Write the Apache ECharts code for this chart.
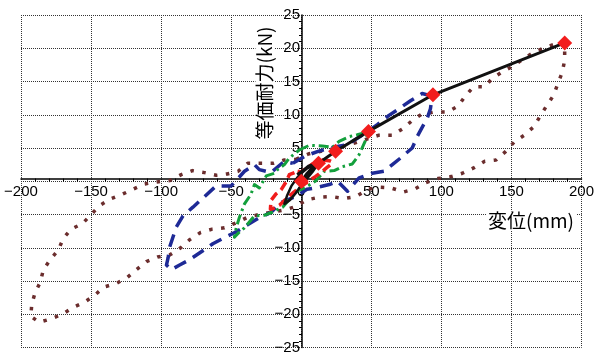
<!DOCTYPE html>
<html><head><meta charset="utf-8">
<script src="https://cdn.jsdelivr.net/npm/echarts@6/dist/echarts.min.js"></script>
<style>html,body{margin:0;padding:0;background:#fff}#c{width:597px;height:355px}</style>
</head><body><div id="c"></div>
<script>
// ---- data ----
var xTicks = [-200, -150, -100, -50, 0, 50, 100, 150, 200];
var yTicks = [-25, -20, -15, -10, -5, 0, 5, 10, 15, 20, 25];
var xName = '変位(mm)';
var yName = '等価耐力(kN)';

// skeleton (envelope) curve with diamond markers
var skeletonX = [0, 12.3, 24.5, 48, 94, 188];
var skeletonY = [0, 2.7, 4.5, 7.5, 13, 20.8];

// small black loops near origin
var blackLoop = [[0,0],[4,1.2],[8,2.1],[12.3,2.7],[8,1.4],[4,0.4],[0,-0.6],[-4,-1.8],[-8,-2.8],[-12,-3.4],[-10,-2.1],[-7,-0.7],[-3,0.5],[0,1.2],[4,1.9],[8,2.4],[12.3,2.7],[9,2.6],[5,2.3],[1,1.6],[-3,1.0]];

// red loop (~±20 mm)
var redLoop = [[-2.6,1.5],[0,1.4],[4,2],[8,2.6],[12,3.0],[15,3.2],[20,3.1],[22,2.9],[21,2.5],[18,2.0],[15.2,1.5],[10,0.7],[5,0],[0,-0.8],[-5,-1.6],[-10,-2.5],[-15.6,-3.6],[-20,-4.1],[-22,-4.2],[-21.6,-2.9],[-18,-1.9],[-14.4,-1.3],[-10.5,0],[-8.5,1],[-2.6,1.5]];

// green loop (~±50 mm)
var greenLoop = [[-1.4,4.7],[5.7,5.4],[15,5.3],[22.3,5.1],[27,6],[34,6.7],[40,7],[47.2,7.4],[46,6.2],[43,4.8],[41.3,4.0],[36.5,2.6],[29.4,2.2],[23.5,1.6],[16.4,1.5],[10,0],[4,-0.8],[-3,-1.5],[-8,-2.6],[-13.3,-3.9],[-20,-4.6],[-26,-5.1],[-33.4,-5.2],[-40.5,-7.0],[-44,-7.6],[-47.7,-8.4],[-46.4,-7],[-44.1,-5.4],[-40.5,-3.4],[-36,-2],[-33.4,-0.5],[-29.9,-1],[-25,0.8],[-19,1.2],[-16.9,1.75],[-12,2.5],[-8.5,3.5],[-1.4,4.7]];

// blue loop (~±100 mm)
var blueLoop = [[-6,2.7],[3,3.8],[12,4.5],[24.7,5.2],[33,5.5],[44,7],[54.3,8.5],[62.6,9.9],[69.7,10.9],[78,12.1],[86.3,13.2],[93.4,12.8],[92.2,10.9],[89.8,9.4],[86,8],[82.7,6.7],[79.2,5.0],[70.9,3.5],[65,2.5],[59,1.5],[50.7,1.2],[41.3,0.5],[33,-1.5],[26,0],[20,-0.5],[10,-1],[4,-1.2],[-3,-2.2],[-14.4,-3.2],[-21.6,-4.7],[-30,-5.5],[-38,-6.5],[-46.4,-7.6],[-55,-8.5],[-63.1,-9.4],[-71.3,-10.6],[-79.7,-11.8],[-86.8,-12.6],[-92.7,-13.3],[-96.2,-12.6],[-95,-11.5],[-93.9,-9.9],[-89.2,-6.9],[-84.4,-5.2],[-77.3,-3.9],[-69,-2.3],[-60.7,-0.7],[-50,-0.7],[-40.5,1.5],[-33.4,2.5],[-29.9,1.75],[-21.6,1.3],[-12.1,3.0],[-6,2.7]];

// brown loop (~±190 mm)
var brownLoop = [[-3.8,3.3],[5,4.1],[14,4.5],[26,5],[39,5.8],[55,6.9],[65,6.9],[72.5,7.9],[79,9.1],[86,10.1],[95,10.4],[104,10.4],[112,11.3],[117,12.8],[123,14.2],[131,14.2],[136,15.4],[143,16.4],[151,17.3],[158.6,18.4],[166,19.4],[174,20.1],[182,20.7],[188,20.8],
[188,18.2],[186.3,16.4],[183,14.6],[180,12.9],[175,11.3],[170.5,9.8],[166,8.2],[159,6.9],[152,5.9],[146,4.5],[139,3.2],[131,3.0],[123,2.0],[115,1.2],[107,0.7],[97.4,0.4],[89,-0.2],[81.6,-1.1],[73.3,-1.6],[63.8,-1.0],[55.5,-0.9],[47.7,-1.2],[38.9,-2.3],[30.6,-2.6],[21.6,-2.3],[12.8,-2.4],[3.8,-2.8],[-3.8,-3.8],[-11.4,-4.3],[-20,-4.6],[-30,-5],[-38.2,-5.4],[-44.8,-6.1],[-54.8,-7.0],[-63.5,-7.2],[-71.8,-7.7],[-79.7,-8.8],[-86,-10.0],[-94,-11.1],[-102.6,-11.4],[-110.5,-12.1],[-117.6,-13.3],[-124.3,-14.5],[-132.3,-15.4],[-140.8,-15.9],[-147.2,-17.1],[-154.8,-18.2],[-163,-19.0],[-170.5,-20.0],[-178.7,-20.7],[-187,-21.2],
[-193,-20.3],[-192.3,-18.5],[-190,-16.8],[-186.3,-15.2],[-184,-13.3],[-179.2,-11.8],[-173.3,-10.3],[-169.8,-8.6],[-164.3,-7.2],[-156.3,-6.4],[-150.3,-5.1],[-144.2,-3.7],[-136.6,-2.7],[-128.2,-2.0],[-120,-1.2],[-111.7,-0.4],[-103,-0.1],[-94,0.1],[-85.6,1.0],[-77.7,1.6],[-69,1.3],[-60.7,0.9],[-52.8,1.1],[-45,1.5],[-38.2,2.7],[-28.7,2.7],[-19.9,2.7],[-12,3.2],[-3.8,3.3]];

// ---- chart ----
var W = 597, H = 355;
var chart = echarts.init(document.getElementById('c'), null, {renderer: 'canvas', width: W, height: H});
var labelFont = "'Liberation Sans Narrow', 'Liberation Sans', Arial, sans-serif";
function fmt(v) { return v < 0 ? '\u2212' + Math.abs(v) : String(v); }
var skeleton = skeletonX.map(function (x, i) { return [x, skeletonY[i]]; });
var grid = {left: 21, right: 14, top: 15, bottom: 2};
var gw = W - grid.left - grid.right, gh = H - grid.top - grid.bottom;
var xMin = xTicks[0], xMax = xTicks[xTicks.length - 1];
var yMin = yTicks[0], yMax = yTicks[yTicks.length - 1];
// move the axes (line + labels) onto the zero lines
var xAxisOffset = -gh * (0 - yMin) / (yMax - yMin);
var yAxisOffset = -gw * (0 - xMin) / (xMax - xMin);
var splitStyle = {show: true, lineStyle: {color: '#333', width: 1, type: [1, 1]}};

function loopSeries(data, color, width, dash, z) {
  return {type: 'line', data: data, showSymbol: false, symbol: 'none', smooth: false, z: z,
    lineStyle: {color: color, width: width, type: dash, cap: 'butt', join: 'round'}, silent: true, animation: false};
}

chart.setOption({
  animation: false,
  backgroundColor: '#fff',
  grid: grid,
  xAxis: {
    type: 'value', min: xMin, max: xMax, interval: xTicks[1] - xTicks[0],
    position: 'bottom', offset: xAxisOffset,
    axisLine: {onZero: false, lineStyle: {color: '#000', width: 1.5}},
    axisTick: {show: false},
    minorTick: {show: true, splitNumber: 5, length: 3, lineStyle: {color: '#000', width: 1}},
    splitLine: splitStyle,
    axisLabel: {color: '#000', fontFamily: labelFont, fontSize: 15, margin: 6, formatter: fmt, showMinLabel: true, showMaxLabel: true}
  },
  yAxis: {
    type: 'value', min: yMin, max: yMax, interval: yTicks[1] - yTicks[0],
    position: 'left', offset: yAxisOffset,
    axisLine: {onZero: false, lineStyle: {color: '#000', width: 1.5}},
    axisTick: {show: false},
    minorTick: {show: true, splitNumber: 5, length: 3, lineStyle: {color: '#000', width: 1}},
    splitLine: splitStyle,
    axisLabel: {color: '#000', fontFamily: labelFont, fontSize: 15, margin: 2,
      formatter: function (v) { return v === 0 ? '' : fmt(v); }, showMinLabel: true, showMaxLabel: true}
  },
  graphic: [
    {type: 'text', x: 531, y: 221, z: 5,
      style: {text: xName, font: "19px 'Noto Sans CJK JP'", fill: '#000', align: 'center', verticalAlign: 'middle', backgroundColor: '#fff', padding: [0, 2]}},
    {type: 'text', x: 265, y: 83, rotation: Math.PI / 2, z: 5,
      style: {text: yName, font: "19px 'Noto Sans CJK JP'", fill: '#000', align: 'center', verticalAlign: 'middle', backgroundColor: '#fff', padding: [0, 2]}}
  ],
  series: [
    loopSeries(brownLoop, '#6b2d2d', 3.5, [3.5, 8.5], 2),
    loopSeries(blueLoop, '#1e2a96', 3.5, [13, 8], 3),
    loopSeries(greenLoop, '#13a03c', 3, [10, 4, 2.5, 4], 4),
    loopSeries(redLoop, '#f01c1c', 3.5, [9, 5], 5),
    loopSeries(blackLoop, '#111', 2.5, 'solid', 6),
    {type: 'line', data: skeleton, z: 7, symbol: 'diamond', symbolSize: 15, showSymbol: true,
      itemStyle: {color: '#f21d1d'}, lineStyle: {color: '#111', width: 3}, silent: true}
  ]
});
</script>
</body></html>
